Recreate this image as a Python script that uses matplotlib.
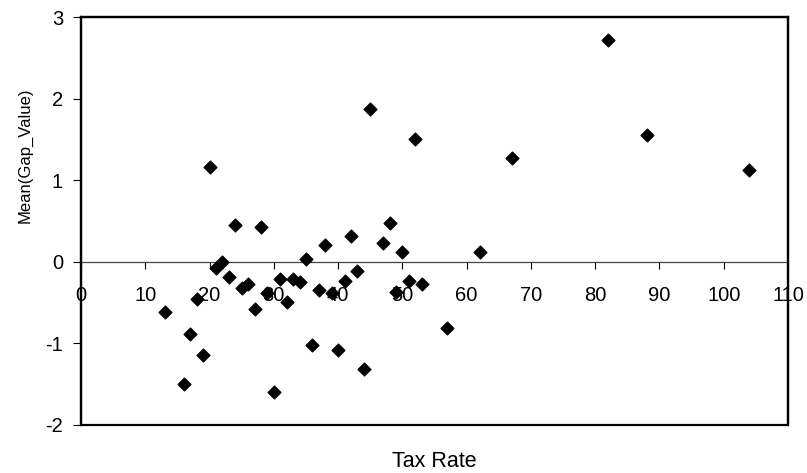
"""Scatter of mean gap value against tax rate."""

import matplotlib

matplotlib.use("Agg")
import matplotlib.pyplot as plt
from matplotlib.patches import Rectangle

plt.rcParams["font.family"] = ["Liberation Sans", "DejaVu Sans"]
plt.rcParams["axes.unicode_minus"] = False

tax_rate = [13, 16, 17, 18, 19, 20, 21, 22, 23, 24, 25, 26, 27, 28, 29, 30,
            31, 32, 33, 34, 35, 36, 37, 38, 39, 40, 41, 42, 43, 44, 45, 47,
            48, 49, 50, 51, 52, 53, 57, 62, 67, 82, 88, 104]
mean_gap = [-0.61, -1.50, -0.88, -0.45, -1.14, 1.16, -0.08, 0.00, -0.19, 0.45,
            -0.32, -0.27, -0.58, 0.43, -0.38, -1.59, -0.21, -0.49, -0.21, -0.25,
            0.04, -1.02, -0.34, 0.21, -0.38, -1.08, -0.24, 0.32, -0.11, -1.31,
            1.87, 0.23, 0.47, -0.37, 0.12, -0.23, 1.51, -0.27, -0.81, 0.12,
            1.27, 2.72, 1.56, 1.12]
x_ticks = list(range(0, 111, 10))
y_ticks = [-2, -1, 0, 1, 2, 3]

fig = plt.figure(figsize=(8.07, 4.73), dpi=100)
ax = fig.add_axes([0.1004, 0.1015, 0.8761, 0.8625])

ax.scatter(tax_rate, mean_gap, marker="D", s=42, color="black", zorder=3)

ax.set_xlim(0, 110)
ax.set_ylim(-2, 3)
ax.set_xticks(x_ticks)
ax.set_yticks(y_ticks)

# x axis crosses at zero, frame drawn separately
ax.spines["bottom"].set_position(("data", 0))
ax.spines["bottom"].set_linewidth(0.9)
ax.spines["bottom"].set_color("#444444")
for side in ("top", "left", "right"):
    ax.spines[side].set_linewidth(1.6)
ax.add_patch(Rectangle((0, 0), 1, 1, transform=ax.transAxes, fill=False,
                       linewidth=1.6, edgecolor="black", clip_on=False, zorder=4))

ax.tick_params(axis="x", direction="out", length=5, width=0.8, pad=12.5, labelsize=14.5)
ax.tick_params(axis="y", direction="out", length=6, width=0.8, pad=7, labelsize=14.5)

ax.set_xlabel("Tax Rate", fontsize=15.5)
ax.xaxis.set_label_coords(0.5, -0.063)
ax.set_ylabel("Mean(Gap_Value)", fontsize=12)
ax.yaxis.set_label_coords(-0.068, 0.66)

fig.savefig("out.png", dpi=100)
